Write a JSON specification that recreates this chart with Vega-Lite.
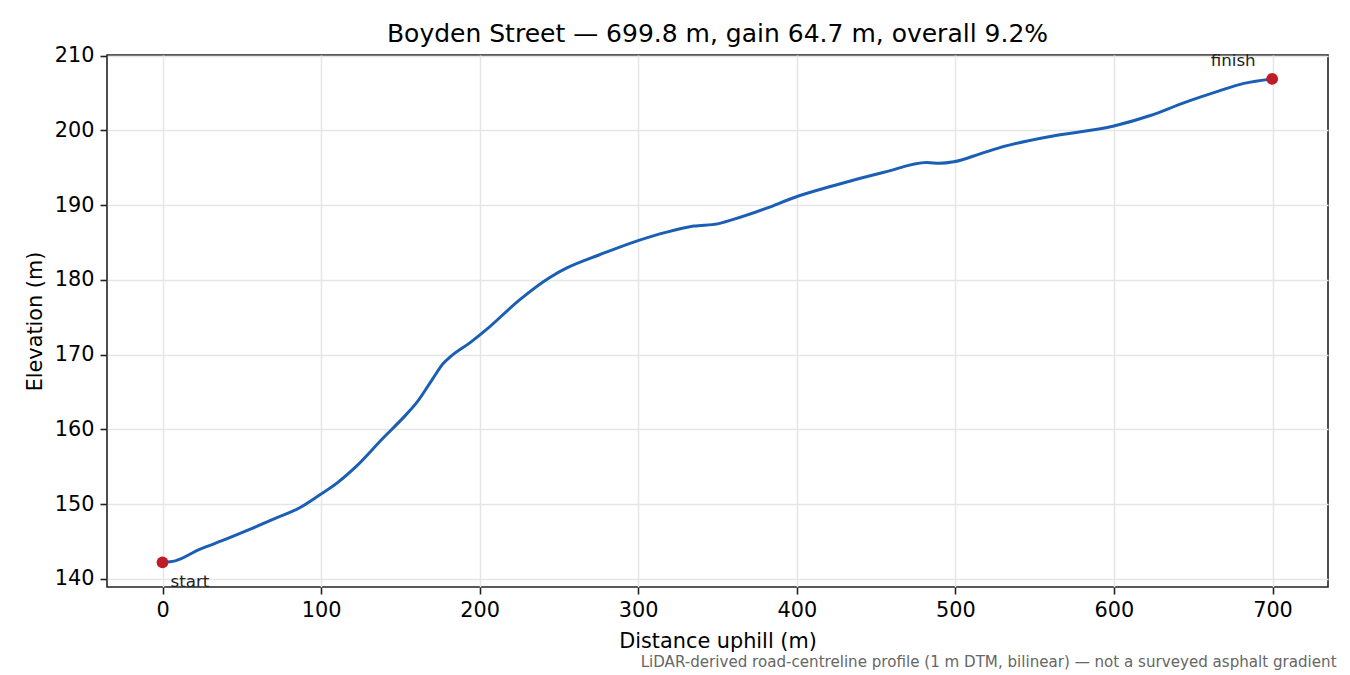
{
  "$schema": "https://vega.github.io/schema/vega-lite/v6.json",
  "width": 1221,
  "height": 532,
  "autosize": {"type": "none"},
  "padding": {"left": 107, "top": 55, "right": 22, "bottom": 88},
  "background": "white",
  "config": {
    "font": "DejaVu Sans",
    "view": {"stroke": "#222222", "strokeWidth": 1.6},
    "axis": {
      "domain": false,
      "grid": true,
      "gridColor": "#e6e6e6",
      "gridWidth": 1.5,
      "tickColor": "#222222",
      "tickSize": 7,
      "tickWidth": 1.6,
      "labelFont": "DejaVu Sans",
      "labelFontSize": 20.8,
      "labelColor": "black",
      "labelPadding": 6,
      "titleFont": "DejaVu Sans",
      "titleFontSize": 20.8,
      "titleFontWeight": "normal",
      "titleColor": "black"
    }
  },
  "title": {
    "text": "Boyden Street — 699.8 m, gain 64.7 m, overall 9.2%",
    "font": "DejaVu Sans",
    "fontSize": 25,
    "fontWeight": "normal",
    "color": "black",
    "offset": -2
  },
  "datasets": {
    "profile": [
      {"d": 0, "e": 142.2}, {"d": 8, "e": 142.4}, {"d": 23, "e": 143.9},
      {"d": 40, "e": 145.3}, {"d": 55, "e": 146.6}, {"d": 70, "e": 148.0},
      {"d": 86.5, "e": 149.5}, {"d": 99, "e": 151.2}, {"d": 110, "e": 152.8},
      {"d": 122, "e": 155.0}, {"d": 139, "e": 158.8}, {"d": 152, "e": 161.6},
      {"d": 160, "e": 163.5}, {"d": 170.5, "e": 166.8}, {"d": 177, "e": 168.8},
      {"d": 182, "e": 169.8}, {"d": 194, "e": 171.6}, {"d": 204, "e": 173.3},
      {"d": 225, "e": 177.3}, {"d": 244, "e": 180.3}, {"d": 255, "e": 181.6},
      {"d": 276, "e": 183.4}, {"d": 299, "e": 185.2}, {"d": 318, "e": 186.4},
      {"d": 335, "e": 187.2}, {"d": 350, "e": 187.5}, {"d": 360, "e": 188.1},
      {"d": 381, "e": 189.6}, {"d": 398, "e": 191.0}, {"d": 423, "e": 192.6},
      {"d": 455, "e": 194.4}, {"d": 482, "e": 195.7}, {"d": 490, "e": 195.6},
      {"d": 499, "e": 195.8}, {"d": 516, "e": 196.9}, {"d": 528, "e": 197.7},
      {"d": 560, "e": 199.2}, {"d": 600, "e": 200.6}, {"d": 623, "e": 202.0},
      {"d": 644, "e": 203.7}, {"d": 665, "e": 205.2}, {"d": 682, "e": 206.3},
      {"d": 699.8, "e": 206.9}
    ],
    "ends": [
      {"d": 0, "e": 142.2, "label": "start"},
      {"d": 699.8, "e": 206.9, "label": "finish"}
    ]
  },
  "layer": [
    {
      "data": {"name": "profile"},
      "mark": {"type": "line", "color": "#1a5fb4", "strokeWidth": 3, "interpolate": "monotone"},
      "encoding": {
        "x": {
          "field": "d",
          "type": "quantitative",
          "title": "Distance uphill (m)",
          "scale": {"domain": [-35, 735], "nice": false, "zero": false},
          "axis": {"values": [0, 100, 200, 300, 400, 500, 600, 700], "titlePadding": 12}
        },
        "y": {
          "field": "e",
          "type": "quantitative",
          "title": "Elevation (m)",
          "scale": {"domain": [138.9, 210.1], "nice": false, "zero": false},
          "axis": {"values": [140, 150, 160, 170, 180, 190, 200, 210], "titlePadding": 9}
        }
      }
    },
    {
      "data": {"name": "ends"},
      "mark": {"type": "circle", "color": "#c01c28", "opacity": 1, "size": 140},
      "encoding": {
        "x": {"field": "d", "type": "quantitative"},
        "y": {"field": "e", "type": "quantitative"}
      }
    },
    {
      "data": {"name": "ends"},
      "transform": [{"filter": "datum.label == 'start'"}],
      "mark": {"type": "text", "align": "left", "baseline": "middle", "dx": 8, "dy": 20, "fontSize": 16.7, "color": "#222222"},
      "encoding": {
        "x": {"field": "d", "type": "quantitative"},
        "y": {"field": "e", "type": "quantitative"},
        "text": {"field": "label"}
      }
    },
    {
      "data": {"name": "ends"},
      "transform": [{"filter": "datum.label == 'finish'"}],
      "mark": {"type": "text", "align": "center", "baseline": "middle", "dx": -39, "dy": -18, "fontSize": 16.7, "color": "#222222"},
      "encoding": {
        "x": {"field": "d", "type": "quantitative"},
        "y": {"field": "e", "type": "quantitative"},
        "text": {"field": "label"}
      }
    },
    {
      "data": {"values": [{"note": "LiDAR-derived road-centreline profile (1 m DTM, bilinear) — not a surveyed asphalt gradient"}]},
      "mark": {"type": "text", "align": "right", "baseline": "middle", "fontSize": 15.1, "color": "#666666"},
      "encoding": {
        "x": {"datum": 740.4, "type": "quantitative"},
        "y": {"datum": 128.9, "type": "quantitative"},
        "text": {"field": "note"}
      }
    }
  ]
}
